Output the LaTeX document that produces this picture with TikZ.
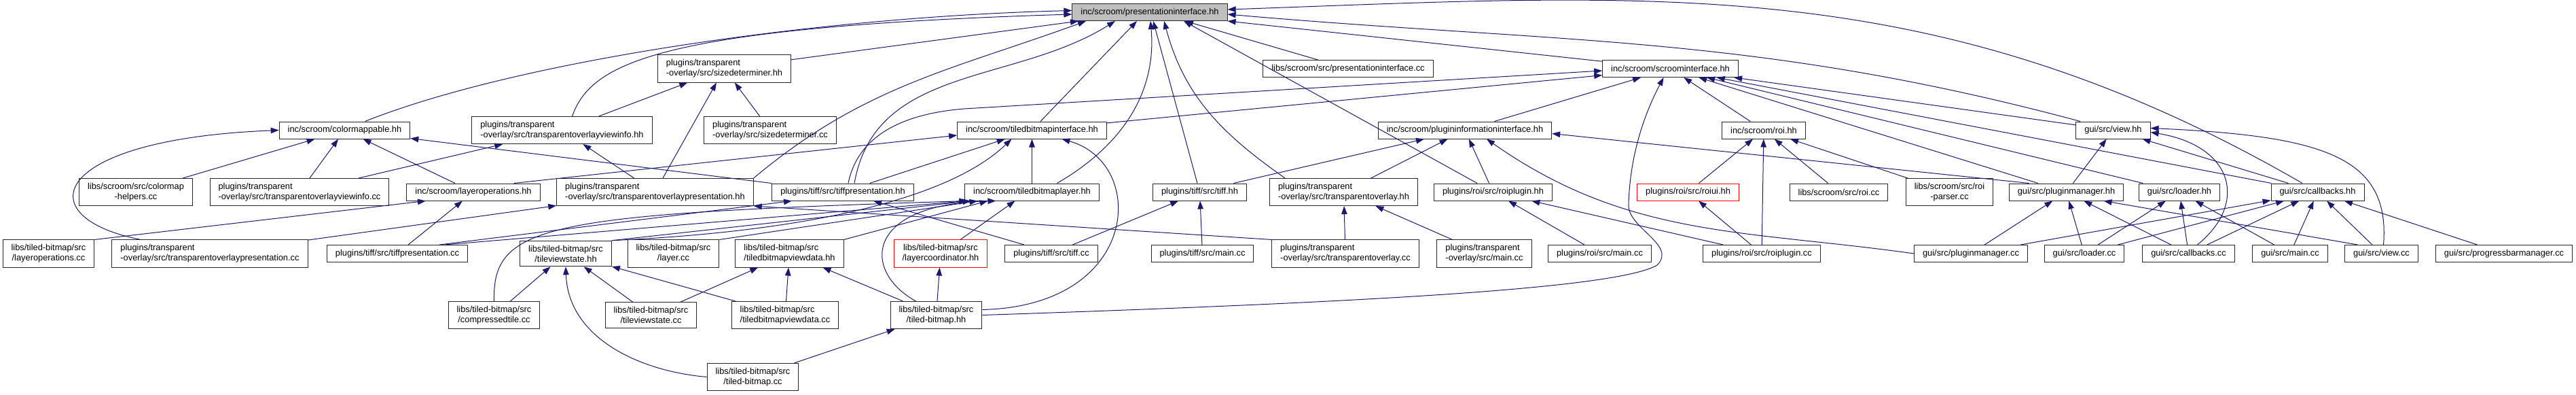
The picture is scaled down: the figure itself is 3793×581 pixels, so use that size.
\documentclass[tikz,border=0pt]{standalone}
\usepackage{fontspec}
\setmainfont{Liberation Sans}
\usepackage{xcolor}
\usepackage{tikz}
\usetikzlibrary{arrows.meta}

\definecolor{edgeblue}{HTML}{191970}

\begin{document}
\begin{tikzpicture}[
  x=0.2mm, y=-0.2mm,
  fbox/.style={draw=black!85, fill=white, line width=0.2mm,
               inner xsep=2.5mm, inner ysep=1.3mm, minimum height=5mm,
               font=\fontsize{7.3}{8.6}\selectfont, align=center},
  gbox/.style={fbox, fill=black!25},
  rbox/.style={fbox, draw=red},
  arr/.style={-{Triangle[length=2.4mm, width=1.7mm]}, edgeblue,
              line width=0.2mm},
]
\useasboundingbox (0,0) rectangle (3793,581);

% --- Rank 0 ---
\node[gbox] (PI) at (1693, 18) {inc/scroom/presentationinterface.hh};

% --- Rank 1 ---
\node[fbox, align=left] (SDH) at (1066.5, 101) {plugins/transparent\\-overlay/src/sizedeterminer.hh};
\node[fbox] (PIC) at (1985,   101) {libs/scroom/src/presentationinterface.cc};
\node[fbox] (SI)  at (2459.5, 101) {inc/scroom/scroominterface.hh};

% --- Rank 2 ---
\node[fbox] (CM) at (507.5, 191.5) {inc/scroom/colormappable.hh};
\node[fbox, align=left] (TOVIH) at (827.5, 191.5) {plugins/transparent\\-overlay/src/transparentoverlayviewinfo.hh};
\node[fbox, align=left] (SDC)   at (1134,  191.5) {plugins/transparent\\-overlay/src/sizedeterminer.cc};
\node[fbox] (TBI)   at (1519.5, 191.5) {inc/scroom/tiledbitmapinterface.hh};
\node[fbox] (PII)   at (2157,   191.5) {inc/scroom/plugininformationinterface.hh};
\node[fbox] (ROI)   at (2597,   191.5) {inc/scroom/roi.hh};
\node[fbox] (VIEWH) at (3111.5, 191.5) {gui/src/view.hh};

% --- Rank 3 ---
\node[fbox] (CMH) at (200, 282.5) {libs/scroom/src/colormap\\-helpers.cc};
\node[fbox, align=left] (TOVIC) at (441, 282.5) {plugins/transparent\\-overlay/src/transparentoverlayviewinfo.cc};
\node[fbox] (LOH) at (697, 282.5) {inc/scroom/layeroperations.hh};
\node[fbox, align=left] (TOPH) at (964.5, 282.5) {plugins/transparent\\-overlay/src/transparentoverlaypresentation.hh};
\node[fbox] (TPH)   at (1241,   282.5) {plugins/tiff/src/tiffpresentation.hh};
\node[fbox] (TBL)   at (1519.5, 282.5) {inc/scroom/tiledbitmaplayer.hh};
\node[fbox] (TIFFH) at (1766.5, 282.5) {plugins/tiff/src/tiff.hh};
\node[fbox, align=left] (TOH) at (1978.5, 282.5) {plugins/transparent\\-overlay/src/transparentoverlay.hh};
\node[fbox] (ROIPH)    at (2198.5, 282.5) {plugins/roi/src/roiplugin.hh};
\node[rbox] (ROIUI)    at (2485.5, 282.5) {plugins/roi/src/roiui.hh};
\node[fbox] (ROICC)    at (2707.5, 282.5) {libs/scroom/src/roi.cc};
\node[fbox] (ROIPARSE) at (2870.5, 282.5) {libs/scroom/src/roi\\-parser.cc};
\node[fbox] (PMH)      at (3042.5, 282.5) {gui/src/pluginmanager.hh};
\node[fbox] (LOADERH)  at (3209,   282.5) {gui/src/loader.hh};
\node[fbox] (CBH)      at (3412.5, 282.5) {gui/src/callbacks.hh};

% --- Rank 4 ---
\node[fbox] (LOC) at (71.5, 373) {libs/tiled-bitmap/src\\/layeroperations.cc};
\node[fbox, align=left] (TOPC) at (309, 373) {plugins/transparent\\-overlay/src/transparentoverlaypresentation.cc};
\node[fbox] (TPC)    at (585,   373) {plugins/tiff/src/tiffpresentation.cc};
\node[fbox] (TVSH)   at (833,   373) {libs/tiled-bitmap/src\\/tileviewstate.hh};
\node[fbox] (LAYERC) at (991.5, 373) {libs/tiled-bitmap/src\\/layer.cc};
\node[fbox, align=left] (TBVDH) at (1162.5, 373) {libs/tiled-bitmap/src\\/tiledbitmapviewdata.hh};
\node[rbox] (LC)       at (1385,   373) {libs/tiled-bitmap/src\\/layercoordinator.hh};
\node[fbox] (TIFFC)    at (1548,   373) {plugins/tiff/src/tiff.cc};
\node[fbox] (TIFFMAIN) at (1770.5, 373) {plugins/tiff/src/main.cc};
\node[fbox, align=left] (TOC)    at (1981,   373) {plugins/transparent\\-overlay/src/transparentoverlay.cc};
\node[fbox, align=left] (TOMAIN) at (2185.5, 373) {plugins/transparent\\-overlay/src/main.cc};
\node[fbox] (ROIMAIN) at (2355.5, 373) {plugins/roi/src/main.cc};
\node[fbox] (ROIPC)   at (2594,   373) {plugins/roi/src/roiplugin.cc};
\node[fbox] (PMC)     at (2902,   373) {gui/src/pluginmanager.cc};
\node[fbox] (LOADERC) at (3069,   373) {gui/src/loader.cc};
\node[fbox] (CBC)     at (3222.5, 373) {gui/src/callbacks.cc};
\node[fbox] (GMAIN)   at (3372,   373) {gui/src/main.cc};
\node[fbox] (VIEWC)   at (3506.5, 373) {gui/src/view.cc};
\node[fbox] (PBM)     at (3687,   373) {gui/src/progressbarmanager.cc};

% --- Rank 5 ---
\node[fbox] (CTC)  at (727.5, 463.5) {libs/tiled-bitmap/src\\/compressedtile.cc};
\node[fbox] (TVSC) at (958.5, 463.5) {libs/tiled-bitmap/src\\/tileviewstate.cc};
\node[fbox, align=left] (TBVDC) at (1156, 463.5) {libs/tiled-bitmap/src\\/tiledbitmapviewdata.cc};
\node[fbox] (TBH)  at (1378.5, 463.5) {libs/tiled-bitmap/src\\/tiled-bitmap.hh};

% --- Rank 6 ---
\node[fbox] (TBC) at (1108.5, 554.5) {libs/tiled-bitmap/src\\/tiled-bitmap.cc};

% --- Edges into presentationinterface.hh ---
\draw[arr] ([xshift=6mm]CM.north) .. controls (760,90) and (1200,25) .. ([yshift=0.5mm]PI.west);
\draw[arr] ([xshift=3mm]TOVIH.north) .. controls (870,95) and (960,40) .. ([yshift=-0.6mm]PI.west);
\draw[arr] (SDH) -- ([xshift=-21mm]PI.south);
\draw[arr] (TOPH.north east) to[out=40,in=200] ([xshift=-18.8mm]PI.south);
\draw[arr] ([xshift=3.4mm]TPH.north) to[out=80,in=212] ([xshift=-10.2mm]PI.south);
\draw[arr] (TBI) -- ([xshift=-3.8mm]PI.south);
\draw[arr] ([xshift=7.4mm]TBL.north) to[out=30,in=-85] ([xshift=0.2mm]PI.south);
\draw[arr] (TIFFH) -- ([xshift=1mm]PI.south);
\draw[arr] ([xshift=4.6mm]TOH.north west) to[out=145,in=-75] ([xshift=4.2mm]PI.south);
\draw[arr] (ROIPH) -- ([xshift=10mm]PI.south);
\draw[arr] (PIC) -- ([xshift=10.4mm]PI.south);
\draw[arr] (SI) -- (PI.south east);
\draw[arr] (VIEWH) to[out=165,in=-5] ([yshift=-0.6mm]PI.east);
\draw[arr] (CBH) to[out=150,in=2] ([yshift=0.8mm]PI.east);

% --- Edges into scroominterface.hh ---
\draw[arr] (TBI) -- (SI);
\draw[arr] ([xshift=1.6mm]TPH.north) .. controls (1262,205) and (1320,168) .. (1420,160) -- ([yshift=-0.6mm]SI.west);
\draw[arr] (PII) -- (SI);
\draw[arr] (TBH.east) .. controls (2000,445) and (2380,425) .. (2440,390)
  .. controls (2470,360) and (2395,335) .. (2398,300)
  .. controls (2400,230) and (2420,170) .. ([xshift=-2mm]SI.south);
\draw[arr] (ROI) -- (SI);
\draw[arr] (PMH) -- (SI);
\draw[arr] (LOADERH) -- (SI);
\draw[arr] (CBH) -- (SI);
\draw[arr] (VIEWH) -- (SI);

% --- sizedeterminer.hh ---
\draw[arr] (TOVIH) -- (SDH);
\draw[arr] (TOPH) -- (SDH);
\draw[arr] (SDC) -- (SDH);

% --- colormappable.hh ---
\draw[arr] (CMH) -- (CM);
\draw[arr] (TOVIC) -- (CM);
\draw[arr] ([xshift=8.6mm]TOPC.north west) .. controls (40,320) and (70,205) .. (CM.west);
\draw[arr] (TPH) -- (CM);
\draw[arr] (LOH) -- (CM);

% --- transparentoverlayviewinfo.hh ---
\draw[arr] (TOVIC) -- (TOVIH);
\draw[arr] (TOPH) -- (TOVIH);

% --- tiledbitmapinterface.hh ---
\draw[arr] ([xshift=12mm]LOH.north) -- ([yshift=-1.5mm]TBI.west);
\draw[arr] (TPH) -- (TBI);
\draw[arr] (TVSH.north east) .. controls (1200,340) and (1400,290) .. ([xshift=-6mm]TBI.south);
\draw[arr] (TBL) -- (TBI);
\draw[arr] ([yshift=1.6mm]TBH.east) .. controls (1680,450) and (1690,240) .. ([xshift=8.8mm]TBI.south);

% --- plugininformationinterface.hh ---
\draw[arr] ([xshift=10mm]TIFFH.north) -- ([xshift=-12mm]PII.south);
\draw[arr] (TOH) -- (PII);
\draw[arr] (ROIPH) -- (PII);
\draw[arr] (PMC.west) to[out=172,in=-35] ([xshift=6.4mm]PII.south);
\draw[arr] ([xshift=-11mm]PMH.north) -- ([yshift=-1mm]PII.east);

% --- roi.hh ---
\draw[arr] (ROIUI) -- (ROI);
\draw[arr] (ROIPC) -- (ROI);
\draw[arr] (ROICC) -- (ROI);
\draw[arr] (ROIPARSE) -- (ROI);

% --- view.hh ---
\draw[arr] (PMH) -- (VIEWH);
\draw[arr] (CBH) -- (VIEWH);
\draw[arr] ([xshift=2.6mm]CBC.north) .. controls (3310,300) and (3290,215) .. ([yshift=-0.6mm]VIEWH.east);
\draw[arr] ([xshift=0.6mm]VIEWC.north) .. controls (3520,230) and (3420,200) .. ([yshift=0.6mm]VIEWH.east);

% --- layeroperations.hh ---
\draw[arr] (LOC.north east) -- ([xshift=-14mm]LOH.south);
\draw[arr] (TPC) -- (LOH);

% --- transparentoverlaypresentation.hh ---
\draw[arr] (TOPC) -- (TOPH);
\draw[arr] (TOC.north west) -- (TOPH.south east);

% --- tiffpresentation.hh ---
\draw[arr] ([xshift=12.4mm]TPC.north) -- ([xshift=-15mm]TPH.south);
\draw[arr] ([xshift=-8mm]TIFFC.north) -- ([xshift=9mm]TPH.south);

% --- tiledbitmaplayer.hh ---
\draw[arr] (TVSH.north east) -- ([xshift=-18mm]TBL.south);
\draw[arr] (LAYERC.north east) -- ([xshift=-16mm]TBL.south);
\draw[arr] (TBVDH.north east) -- ([xshift=-13mm]TBL.south);
\draw[arr] (LC) -- ([xshift=-5mm]TBL.south);
\draw[arr] ([xshift=14mm]TPC.north) -- ([xshift=-19mm]TBL.south);
\draw[arr] (CTC.north) .. controls (725,330) and (800,315) .. ([xshift=-19mm]TBL.south);
\draw[arr] ([xshift=-6mm]TBH.north) .. controls (1270,400) and (1270,300) .. ([xshift=-10.6mm]TBL.south);

% --- tiff.hh, transparentoverlay.hh, roiplugin.hh, roiui.hh ---
\draw[arr] (TIFFC) -- (TIFFH);
\draw[arr] (TIFFMAIN) -- (TIFFH);
\draw[arr] (TOC) -- (TOH);
\draw[arr] (TOMAIN) -- (TOH);
\draw[arr] (ROIMAIN) -- (ROIPH);
\draw[arr] (ROIPC) -- (ROIPH);
\draw[arr] (ROIPC) -- (ROIUI);

% --- pluginmanager.hh, loader.hh, callbacks.hh ---
\draw[arr] (PMC) -- (PMH);
\draw[arr] (LOADERC) -- (PMH);
\draw[arr] (CBC) -- (PMH);
\draw[arr] ([xshift=-7mm]VIEWC.north) -- ([xshift=11mm]PMH.south);
\draw[arr] (LOADERC) -- (LOADERH);
\draw[arr] (CBC) -- (LOADERH);
\draw[arr] (GMAIN) -- (LOADERH);
\draw[arr] (PMC) -- (CBH);
\draw[arr] (LOADERC) -- (CBH);
\draw[arr] (CBC) -- (CBH);
\draw[arr] (GMAIN) -- (CBH);
\draw[arr] (VIEWC) -- (CBH);
\draw[arr] (PBM) -- (CBH);

% --- tiled-bitmap library ---
\draw[arr] (CTC) -- (TVSH);
\draw[arr] (TVSC) -- (TVSH);
\draw[arr] (TBVDC) -- (TVSH);
\draw[arr] (TBC.west) to[out=175,in=-88] (TVSH.south);
\draw[arr] (TVSC) -- (TBVDH);
\draw[arr] (TBVDC) -- (TBVDH);
\draw[arr] (TBH) -- (TBVDH);
\draw[arr] (TBH) -- (LC);
\draw[arr] (TBC) -- (TBH);
\end{tikzpicture}
\end{document}
